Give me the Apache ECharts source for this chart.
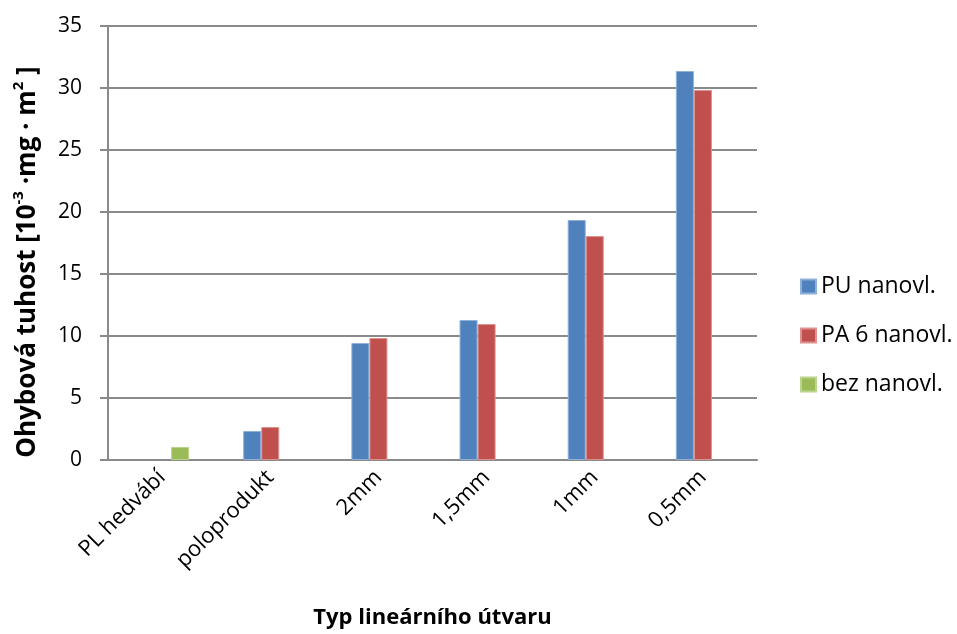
<!DOCTYPE html>
<html>
<head>
<meta charset="utf-8">
<script src="https://cdn.jsdelivr.net/npm/echarts@6/dist/echarts.min.js"></script>
<style>
  html, body { margin: 0; padding: 0; background: #ffffff; }
  #chart { width: 957px; height: 634px; }
</style>
</head>
<body>
<div id="chart"></div>
<script>
// Bending stiffness by type of linear product
const categories = ['PL hedvábí', 'poloprodukt', '2mm', '1,5mm', '1mm', '0,5mm'];
const puCoated = [null, 2.34, 9.43, 11.29, 19.35, 31.37];
const pa6Coated = [null, 2.66, 9.84, 10.97, 18.06, 29.84];
const uncoated = [1.05, null, null, null, null, null];
const yTicks = { min: 0, max: 35, interval: 5 };

const FONT = 'Open Sans';
const gridColor = '#8a8a8a';

const chart = echarts.init(document.getElementById('chart'), null, { renderer: 'canvas' });

function barSeries(name, data, color, border) {
  return {
    name: name,
    type: 'bar',
    data: data,
    barGap: '0%',
    barCategoryGap: '50%',
    itemStyle: { color: color, borderColor: border, borderWidth: 1 },
    emphasis: { disabled: true }
  };
}

chart.setOption({
  animation: false,
  textStyle: { fontFamily: FONT },
  grid: { left: 108, right: 200, top: 26, bottom: 174, containLabel: false, outerBoundsMode: 'none' },
  legend: {
    orient: 'vertical',
    left: 800,
    top: 275,
    padding: 0,
    itemWidth: 15,
    itemHeight: 14,
    itemGap: 26,
    icon: 'rect',
    textStyle: { fontFamily: FONT, fontSize: 23, color: '#000' },
    data: ['PU nanovl.', 'PA 6 nanovl.', 'bez nanovl.']
  },
  xAxis: {
    type: 'category',
    data: categories,
    name: 'Typ lineárního útvaru',
    nameLocation: 'middle',
    nameGap: 147,
    nameTextStyle: { fontFamily: FONT, fontSize: 22, fontWeight: 'bold', color: '#000' },
    axisLine: { lineStyle: { color: gridColor, width: 2 } },
    axisTick: { show: false },
    axisLabel: {
      interval: 0,
      rotate: 45,
      margin: 14,
      fontFamily: FONT,
      fontSize: 22,
      color: '#000'
    }
  },
  yAxis: {
    type: 'value',
    min: yTicks.min,
    max: yTicks.max,
    interval: yTicks.interval,
    name: '{b|Ohybová tuhost [10}{s|-3}{b| ·mg · m}{s|2}{b| ]}',
    nameLocation: 'middle',
    nameGap: 67,
    nameRotate: 90,
    nameTextStyle: {
      padding: [0, 38, 0, 0],
      rich: {
        b: { fontFamily: FONT, fontSize: 26, fontWeight: 'bold', color: '#000', verticalAlign: 'bottom', lineHeight: 30 },
        s: { fontFamily: FONT, fontSize: 15, fontWeight: 'bold', color: '#000', verticalAlign: 'top', lineHeight: 30 }
      }
    },
    axisLine: { show: true, lineStyle: { color: gridColor, width: 2 } },
    axisTick: { show: true, length: 8, lineStyle: { color: gridColor, width: 2 } },
    splitLine: { lineStyle: { color: gridColor, width: 2 } },
    axisLabel: { margin: 26, fontFamily: FONT, fontSize: 21, color: '#000' }
  },
  series: [
    barSeries('PU nanovl.', puCoated, '#4f81bd', '#8fb0d8'),
    barSeries('PA 6 nanovl.', pa6Coated, '#c0504d', '#dd9290'),
    barSeries('bez nanovl.', uncoated, '#9bbb59', '#bcd48d')
  ]
});
</script>
</body>
</html>
